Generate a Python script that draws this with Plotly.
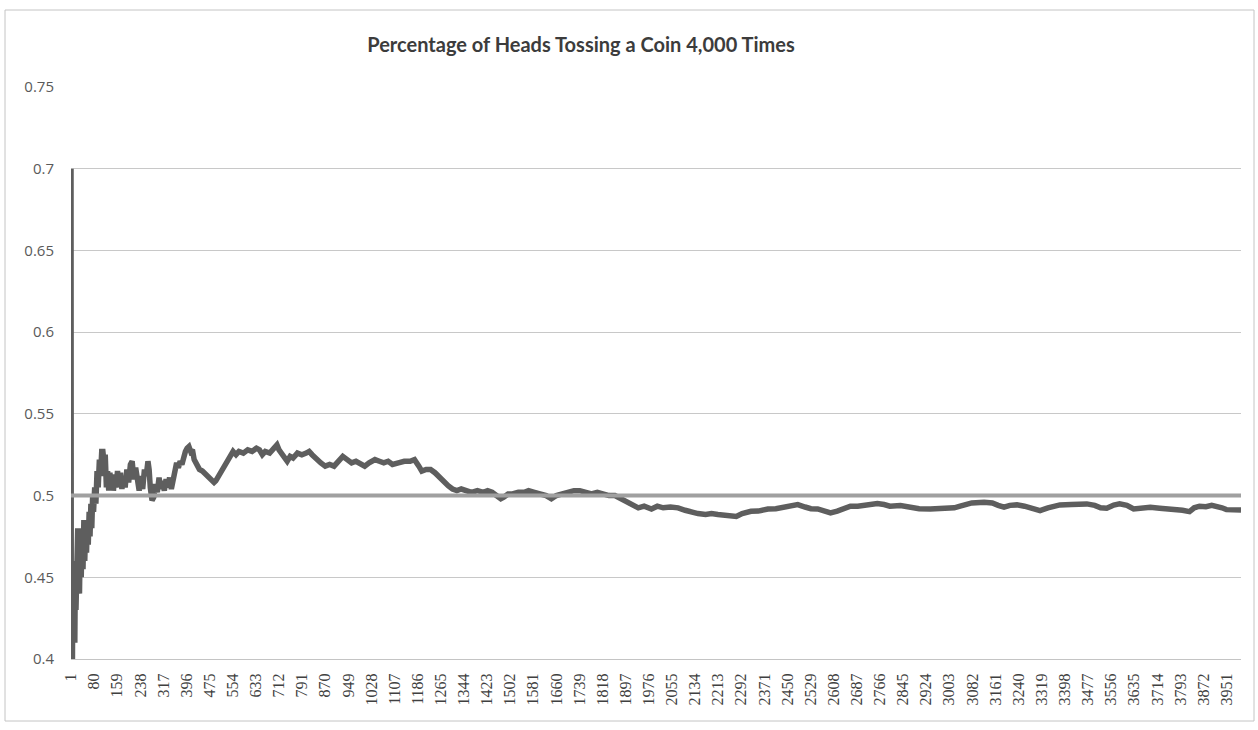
import plotly.graph_objects as go

# Toss number and cumulative share of heads
tosses = [1, 2, 3, 4, 5, 6, 7, 8, 9, 10, 12, 14, 16, 18, 20, 22, 24, 26, 28, 30,
          33, 36, 39, 42, 45, 48, 51, 54, 57, 60, 63, 66, 69, 72, 75, 78, 82, 86, 90, 94,
          98, 102, 106, 110, 114, 118, 122, 126, 130, 134, 138, 142, 146, 150, 155, 160, 165, 170, 175, 180,
          186, 192, 198, 204, 210, 216, 222, 228, 234, 240, 246, 252, 258, 264, 268, 272, 278, 284, 290, 296,
          302, 308, 314, 320, 326, 332, 338, 344, 350, 356, 362, 368, 374, 380, 386, 392, 398, 404, 410, 416,
          422, 430, 440, 450, 460, 470, 480, 490, 496, 505, 515, 525, 535, 545, 555, 565, 575, 590, 605, 620,
          635, 645, 655, 665, 680, 695, 705, 712, 720, 730, 740, 750, 760, 775, 790, 805, 815, 825, 840, 855,
          870, 885, 900, 915, 930, 945, 960, 975, 990, 1005, 1020, 1040, 1055, 1070, 1085, 1100, 1120, 1140, 1160, 1175,
          1190, 1200, 1215, 1230, 1245, 1260, 1275, 1290, 1305, 1320, 1335, 1350, 1370, 1390, 1410, 1425, 1440, 1455, 1470, 1480,
          1495, 1510, 1530, 1550, 1565, 1585, 1605, 1625, 1643, 1660, 1680, 1700, 1720, 1740, 1760, 1780, 1800, 1820, 1840, 1860,
          1880, 1900, 1920, 1940, 1960, 1985, 2005, 2025, 2050, 2076, 2100, 2125, 2144, 2170, 2190, 2212, 2240, 2260, 2275, 2295,
          2325, 2350, 2383, 2410, 2440, 2460, 2485, 2510, 2530, 2553, 2575, 2597, 2620, 2645, 2665, 2690, 2720, 2757, 2780, 2800,
          2836, 2870, 2900, 2938, 2970, 3000, 3020, 3040, 3080, 3122, 3150, 3170, 3190, 3210, 3234, 3260, 3290, 3313, 3340, 3365,
          3381, 3420, 3473, 3500, 3520, 3541, 3565, 3585, 3610, 3633, 3660, 3690, 3722, 3750, 3780, 3800, 3824, 3840, 3858, 3880,
          3900, 3916, 3935, 3950, 3970, 4000]

pct_heads = [0.70, 0.38, 0.42, 0.39, 0.44, 0.40, 0.45, 0.41, 0.46, 0.42, 0.45, 0.41, 0.46, 0.43, 0.47, 0.44, 0.48, 0.45, 0.48, 0.44,
             0.48, 0.45, 0.48, 0.455, 0.485, 0.46, 0.48, 0.465, 0.485, 0.47, 0.49, 0.475, 0.495, 0.48, 0.50, 0.49, 0.505, 0.495, 0.515, 0.505,
             0.522, 0.512, 0.527, 0.527, 0.52, 0.525, 0.505, 0.515, 0.503, 0.514, 0.504, 0.513, 0.503, 0.512, 0.505, 0.515, 0.506, 0.514, 0.504, 0.512,
             0.505, 0.516, 0.508, 0.519, 0.521, 0.51, 0.517, 0.506, 0.503, 0.512, 0.504, 0.516, 0.512, 0.521, 0.516, 0.505, 0.497, 0.499, 0.507, 0.502,
             0.511, 0.504, 0.509, 0.503, 0.51, 0.505, 0.511, 0.504, 0.51, 0.515, 0.52, 0.517, 0.521, 0.519, 0.524, 0.527, 0.529, 0.530, 0.527, 0.528,
             0.522, 0.519, 0.516, 0.515, 0.513, 0.511, 0.510, 0.508, 0.509, 0.512, 0.515, 0.518, 0.521, 0.524, 0.527, 0.525, 0.527, 0.526, 0.528, 0.527,
             0.529, 0.528, 0.525, 0.527, 0.526, 0.529, 0.531, 0.528, 0.526, 0.523, 0.521, 0.524, 0.523, 0.526, 0.525, 0.526, 0.527, 0.525, 0.522, 0.52,
             0.518, 0.519, 0.518, 0.521, 0.524, 0.522, 0.52, 0.521, 0.519, 0.518, 0.52, 0.522, 0.521, 0.52, 0.521, 0.519, 0.52, 0.521, 0.521, 0.522,
             0.518, 0.515, 0.516, 0.516, 0.514, 0.511, 0.508, 0.506, 0.504, 0.503, 0.504, 0.503, 0.502, 0.503, 0.502, 0.503, 0.502, 0.500, 0.498, 0.499,
             0.501, 0.501, 0.502, 0.502, 0.503, 0.502, 0.501, 0.5, 0.498, 0.5, 0.501, 0.502, 0.503, 0.503, 0.502, 0.501, 0.502, 0.501, 0.500, 0.500,
             0.498, 0.496, 0.494, 0.4925, 0.4935, 0.4918, 0.4935, 0.4925, 0.493, 0.4925, 0.491, 0.4895, 0.489, 0.4885, 0.489, 0.4884, 0.4875, 0.487, 0.4872, 0.489,
             0.4904, 0.4905, 0.4918, 0.492, 0.493, 0.4945, 0.4945, 0.493, 0.492, 0.4918, 0.4905, 0.4894, 0.4905, 0.492, 0.4935, 0.4935, 0.4945, 0.4951, 0.4945, 0.4935,
             0.4939, 0.4925, 0.492, 0.4918, 0.4922, 0.492, 0.4925, 0.4935, 0.4955, 0.4959, 0.4955, 0.494, 0.4929, 0.494, 0.4943, 0.4935, 0.4918, 0.4908, 0.4925, 0.494,
             0.4943, 0.4945, 0.4949, 0.494, 0.4925, 0.4922, 0.4942, 0.4949, 0.494, 0.4918, 0.4925, 0.4928, 0.4922, 0.492, 0.4915, 0.491, 0.4902, 0.4925, 0.4935, 0.4932,
             0.494, 0.4935, 0.4925, 0.4914, 0.4915, 0.4912]

# Reference line at one half
ref_x = [1, 4000]
ref_y = [0.5, 0.5]

x_tick_vals = [1, 80, 159, 238, 317, 396, 475, 554, 633, 712, 791, 870, 949, 1028, 1107, 1186, 1265,
               1344, 1423, 1502, 1581, 1660, 1739, 1818, 1897, 1976, 2055, 2134, 2213, 2292, 2371,
               2450, 2529, 2608, 2687, 2766, 2845, 2924, 3003, 3082, 3161, 3240, 3319, 3398, 3477,
               3556, 3635, 3714, 3793, 3872, 3951]
x_tick_text = [str(v) for v in x_tick_vals]
y_tick_vals = [0.4, 0.45, 0.5, 0.55, 0.6, 0.65, 0.7, 0.75]
y_tick_text = ["0.4", "0.45", "0.5", "0.55", "0.6", "0.65", "0.7", "0.75"]

W, H = 1258, 730
L, T = 71, 87
R = W - 1241
B = H - 659
pw, ph = W - L - R, H - T - B

fig = go.Figure()
fig.add_trace(go.Scatter(x=tosses, y=pct_heads, mode="lines",
                         line=dict(color="#5e5e5e", width=5.5), showlegend=False))
fig.add_trace(go.Scatter(x=ref_x, y=ref_y, mode="lines",
                         line=dict(color="#a0a0a0", width=4), showlegend=False))

fig.update_layout(
    width=W, height=H,
    margin=dict(l=L, r=R, t=T, b=B),
    paper_bgcolor="white", plot_bgcolor="white",
    title=dict(text="<b>Percentage of Heads Tossing a Coin 4,000 Times</b>",
               x=(581 - L) / pw, xref="paper", xanchor="center",
               y=1 - 45 / H, yanchor="middle",
               font=dict(family="Lato", size=20, color="#3c3c3c")),
    xaxis=dict(range=[1, 4000], tickmode="array", tickvals=x_tick_vals, ticktext=x_tick_text,
               tickangle=-90, showgrid=False, zeroline=False,
               showline=True, linecolor="#c4c4c4", linewidth=1,
               ticks="", ticklabelstandoff=7,
               tickfont=dict(family="Liberation Serif", size=16, color="#404040")),
    yaxis=dict(range=[0.4, 0.75], tickmode="array", tickvals=y_tick_vals, ticktext=y_tick_text,
               showgrid=True, gridcolor="#c8c8c8", gridwidth=1, zeroline=False,
               showline=False, ticks="", ticklabelstandoff=16,
               tickfont=dict(family="Open Sans", size=15, color="#5a5a5a")),
    shapes=[dict(type="rect", xref="paper", yref="paper",
                 x0=(5 - L) / pw, x1=(1254 - L) / pw,
                 y0=(659 - 721) / ph, y1=(659 - 10) / ph,
                 line=dict(color="#c4c4c4", width=1), fillcolor="rgba(0,0,0,0)", layer="below")],
)

fig.write_html("out.html", config={"displayModeBar": False},
               post_script="document.body.style.margin='0';document.body.style.overflow='hidden';")
